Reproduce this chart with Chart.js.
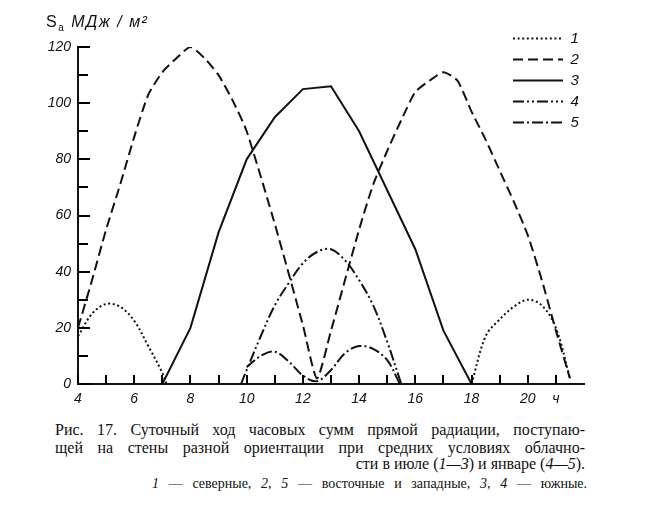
<!DOCTYPE html>
<html>
<head>
<meta charset="utf-8">
<script src="https://cdn.jsdelivr.net/npm/chart.js@4.4.1/dist/chart.umd.min.js"></script>
<style>
  body { margin: 0; background: #fff; }
  #wrap { position: relative; width: 648px; height: 512px; background: #fff; color: #111; }
  #chart { position: absolute; left: 0; top: 0; }
  .ytitle { position: absolute; left: 46px; top: 13px; font: 16px "Liberation Sans", sans-serif; letter-spacing: 1.5px; }
  .ytitle i { font-style: italic; }
  .cap { position: absolute; left: 55px; width: 530px; font: 16px "Liberation Serif", serif; line-height: 18px; white-space: nowrap; }
  .just { text-align: justify; text-align-last: justify; white-space: normal; }
  .right { text-align: right; }
  .note { position: absolute; left: 152px; width: 435px; top: 476px; font: 14px "Liberation Serif", serif; text-align: justify; text-align-last: justify; }
</style>
</head>
<body>
<div id="wrap">
  <canvas id="chart" width="648" height="420"></canvas>
  <div class="ytitle">S<sub style="font-size:10px">a</sub> <i>МДж / м²</i></div>
  <div class="cap just" style="top:421px">Рис. 17. Суточный ход часовых сумм прямой радиации, поступаю-</div>
  <div class="cap just" style="top:439px">щей на стены разной ориентации при средних условиях облачно-</div>
  <div class="cap right" style="top:455px">сти в июле (<i>1—3</i>) и январе (<i>4—5</i>).</div>
  <div class="note"><i>1</i> — северные, <i>2</i>, <i>5</i> — восточные и западные, <i>3</i>, <i>4</i> — южные.</div>
</div>
<script>
// hours (x) and MJ/m2 values
const northAmHours = [4, 4.5, 5, 5.5, 6, 6.5, 7, 7.15];
const northAmVals = [17, 25, 28.5, 27.5, 22.5, 13.5, 4, 0];
const northPmHours = [18, 18.5, 19, 19.5, 20, 20.5, 21, 21.5];
const northPmVals = [0, 17, 23, 27.5, 30, 28, 20, 2];

const eastWestJulHours = [4, 4.5, 5, 5.5, 6, 6.5, 7, 7.5, 8, 8.5, 9, 9.5, 10, 11, 12, 12.5,
  13, 14, 14.5, 15, 15.5, 16, 16.5, 17, 17.5, 18, 18.5, 19, 19.5, 20, 20.5, 21, 21.5];
const eastWestJulVals = [20, 37, 55, 71, 88, 103, 111, 116, 120, 116, 110, 101, 90, 57, 21, 2,
  19, 55, 71, 83, 94, 104, 108, 111, 108, 97, 87, 76, 65, 53, 37, 19, 2];

const southJulHours = [7, 8, 9, 10, 11, 12, 13, 14, 15, 16, 17, 18];
const southJulVals = [0, 20, 54, 80, 95, 105, 106, 90, 69, 48, 19, 0];

const southJanHours = [9.8, 10, 10.5, 11, 11.5, 12, 12.5, 13, 13.5, 14, 14.5, 15, 15.5];
const southJanVals = [0, 5, 17, 28, 36, 43, 47, 48, 44, 37, 28, 15, 0];

const eastWestJanHours = [10, 10.5, 11, 11.5, 12, 12.5, 13, 13.5, 14, 14.5, 15, 15.45];
const eastWestJanVals = [6, 10, 11.5, 8, 3, 1, 5, 11, 13.5, 12.5, 8.5, 0];

const seriesLabels = ["1", "2", "3", "4", "5"];
const xTickLabels = { 4: "4", 6: "6", 8: "8", 10: "10", 12: "12", 14: "14", 16: "16", 18: "18", 20: "20", 21: "ч" };
const yTickLabels = [0, 20, 40, 60, 80, 100, 120];

const toPoints = (hs, vs) => hs.map((h, i) => ({ x: h, y: vs[i] }));

const ink = "#111";
const tickFont = { family: "'Liberation Sans', sans-serif", size: 14, style: "italic" };

// legend sits inside the plot, top right
const legendMover = {
  id: "legendMover",
  afterLayout(chart) {
    const lg = chart.legend;
    if (!lg) return;
    const w = lg.width, h = lg.height;
    lg.left = 507;
    lg.top = 25;
    lg.right = lg.left + w;
    lg.bottom = lg.top + h;
  }
};

// tick marks point into the plot, as in the printed figure
const inwardTicks = {
  id: "inwardTicks",
  afterDraw(chart) {
    const { ctx, chartArea } = chart;
    const xs = chart.scales.x, ys = chart.scales.y;
    ctx.save();
    ctx.fillStyle = "#000";
    xs.ticks.forEach((t) => {
      if (t.label === null || t.label === undefined) return;
      const px = Math.round(xs.getPixelForValue(t.value));
      ctx.fillRect(px - 1, chartArea.bottom - 9, 2, 9);
    });
    ys.ticks.forEach((t) => {
      const py = Math.round(ys.getPixelForValue(t.value));
      const len = yTickLabels.includes(t.value) ? 12 : 10;
      ctx.fillRect(chartArea.left, py - 1, len, 2);
    });
    ctx.restore();
  }
};

const line = (label, data, dash, tension) => ({
  label,
  data,
  borderColor: ink,
  backgroundColor: ink,
  borderWidth: 2,
  borderDash: dash,
  pointRadius: 0,
  pointStyle: "line",
  tension,
  fill: false
});

new Chart(document.getElementById("chart"), {
  type: "line",
  data: {
    datasets: [
      line(seriesLabels[0],
        toPoints(northAmHours, northAmVals).concat([{ x: 12, y: null }], toPoints(northPmHours, northPmVals)),
        [2, 2.6], 0.35),
      line(seriesLabels[1], toPoints(eastWestJulHours, eastWestJulVals), [10, 5], 0.2),
      line(seriesLabels[2], toPoints(southJulHours, southJulVals), [], 0),
      line(seriesLabels[3], toPoints(southJanHours, southJanVals), [11, 3, 2, 3, 2, 3], 0.35),
      line(seriesLabels[4], toPoints(eastWestJanHours, eastWestJanVals), [11, 3, 2, 3], 0.35)
    ]
  },
  options: {
    responsive: false,
    animation: false,
    spanGaps: false,
    layout: { padding: { top: 47, right: 64, left: 0, bottom: 0 } },
    plugins: {
      tooltip: { enabled: false },
      legend: {
        position: "chartArea",
        align: "start",
        labels: {
          usePointStyle: true,
          pointStyle: "line",
          pointStyleWidth: 50,
          boxHeight: 14,
          padding: 6,
          color: ink,
          font: { family: "'Liberation Sans', sans-serif", size: 15, style: "italic" },
          generateLabels: (chart) =>
            Chart.defaults.plugins.legend.labels.generateLabels(chart).map((item) => {
              const ds = chart.data.datasets[item.datasetIndex];
              return { ...item, lineDash: ds.borderDash, lineWidth: ds.borderWidth,
                strokeStyle: ds.borderColor, fillStyle: ds.borderColor };
            })
        }
      }
    },
    scales: {
      x: {
        type: "linear",
        min: 4,
        max: 22,
        afterFit: (s) => { s.height = 36; },
        border: { color: ink, width: 2 },
        grid: { drawOnChartArea: false, drawTicks: false },
        ticks: {
          stepSize: 1,
          autoSkip: false,
          maxRotation: 0,
          padding: 7,
          color: ink,
          font: tickFont,
          callback: (v) => (v in xTickLabels ? xTickLabels[v] : (v === 22 ? null : ""))
        }
      },
      y: {
        min: 0,
        max: 120,
        afterFit: (s) => { s.width = 78; },
        border: { color: ink, width: 2 },
        grid: { drawOnChartArea: false, drawTicks: false },
        ticks: {
          stepSize: 10,
          padding: 7,
          color: ink,
          font: tickFont,
          callback: (v) => (yTickLabels.includes(v) ? String(v) : "")
        }
      }
    }
  },
  plugins: [legendMover, inwardTicks]
});
</script>
</body>
</html>
